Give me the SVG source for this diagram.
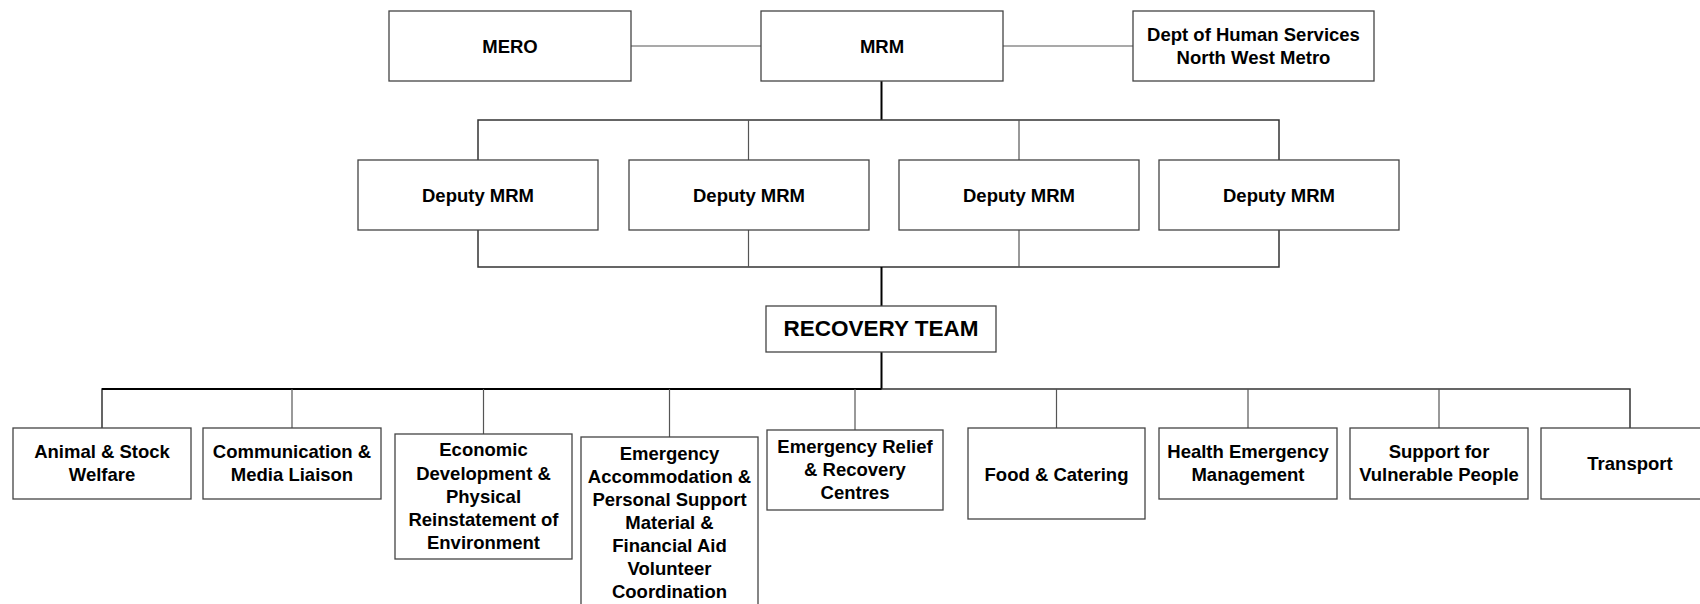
<svg xmlns="http://www.w3.org/2000/svg" width="1700" height="604" viewBox="0 0 1700 604">
<style>
.box{fill:#fff;stroke:#444;stroke-width:1.3}
.t{font-family:"Liberation Sans",Arial,sans-serif;font-weight:bold;font-size:18.5px;fill:#000;text-anchor:middle}
.big{font-size:22.5px}
.ln{fill:none;stroke:#555;stroke-width:1.2}
.bus{fill:none;stroke:#333;stroke-width:1.5}
.spine{fill:none;stroke:#000;stroke-width:2}
</style>
<rect width="1700" height="604" fill="#fff"/>
<g id="connectors">
<line class="ln" x1="631" y1="46" x2="761" y2="46"/>
<line class="ln" x1="1003" y1="46" x2="1133" y2="46"/>
<line class="spine" x1="881.5" y1="81" x2="881.5" y2="120"/>
<polyline class="bus" points="478,160 478,120 1279,120 1279,160"/>
<line class="ln" x1="748.5" y1="120" x2="748.5" y2="160"/>
<line class="ln" x1="1019" y1="120" x2="1019" y2="160"/>
<polyline class="bus" points="478,230 478,267 1279,267 1279,230"/>
<line class="ln" x1="748.5" y1="230" x2="748.5" y2="267"/>
<line class="ln" x1="1019" y1="230" x2="1019" y2="267"/>
<line class="spine" x1="881.5" y1="267" x2="881.5" y2="306"/>
<line class="spine" x1="881.5" y1="352" x2="881.5" y2="389"/>
<polyline class="bus" points="102,428 102,389 1630,389 1630,428"/>
<line class="spine" x1="102" y1="389" x2="881.5" y2="389"/>
<line class="ln" x1="292" y1="389" x2="292" y2="428"/>
<line class="ln" x1="483.5" y1="389" x2="483.5" y2="434"/>
<line class="ln" x1="669.5" y1="389" x2="669.5" y2="437"/>
<line class="ln" x1="855" y1="389" x2="855" y2="430"/>
<line class="ln" x1="1056.5" y1="389" x2="1056.5" y2="428"/>
<line class="ln" x1="1248" y1="389" x2="1248" y2="428"/>
<line class="ln" x1="1439" y1="389" x2="1439" y2="428"/>
</g>
<g id="mero"><rect class="box" x="389" y="11" width="242" height="70"/><text class="t" x="510" y="52.5">MERO</text></g>
<g id="mrm"><rect class="box" x="761" y="11" width="242" height="70"/><text class="t" x="882" y="52.5">MRM</text></g>
<g id="dhs"><rect class="box" x="1133" y="11" width="241" height="70"/><text class="t" x="1253.5" y="41">Dept of Human Services</text><text class="t" x="1253.5" y="64">North West Metro</text></g>
<g id="deputy1"><rect class="box" x="358" y="160" width="240" height="70"/><text class="t" x="478" y="201.5">Deputy MRM</text></g>
<g id="deputy2"><rect class="box" x="629" y="160" width="240" height="70"/><text class="t" x="749" y="201.5">Deputy MRM</text></g>
<g id="deputy3"><rect class="box" x="899" y="160" width="240" height="70"/><text class="t" x="1019" y="201.5">Deputy MRM</text></g>
<g id="deputy4"><rect class="box" x="1159" y="160" width="240" height="70"/><text class="t" x="1279" y="201.5">Deputy MRM</text></g>
<g id="recovery-team"><rect class="box" x="766" y="306" width="230" height="46"/><text class="t big" x="881" y="336">RECOVERY TEAM</text></g>
<g id="animal"><rect class="box" x="13" y="428" width="178" height="71"/><text class="t" x="102" y="458">Animal &amp; Stock</text><text class="t" x="102" y="481">Welfare</text></g>
<g id="communication"><rect class="box" x="203" y="428" width="178" height="71"/><text class="t" x="292" y="458">Communication &amp;</text><text class="t" x="292" y="481">Media Liaison</text></g>
<g id="economic"><rect class="box" x="395" y="434" width="177" height="125"/><text class="t" x="483.5" y="456">Economic</text><text class="t" x="483.5" y="480">Development &amp;</text><text class="t" x="483.5" y="503">Physical</text><text class="t" x="483.5" y="526">Reinstatement of</text><text class="t" x="483.5" y="549">Environment</text></g>
<g id="accommodation"><rect class="box" x="581" y="437" width="177" height="173"/><text class="t" x="669.5" y="460">Emergency</text><text class="t" x="669.5" y="483">Accommodation &amp;</text><text class="t" x="669.5" y="506">Personal Support</text><text class="t" x="669.5" y="529">Material &amp;</text><text class="t" x="669.5" y="552">Financial Aid</text><text class="t" x="669.5" y="575">Volunteer</text><text class="t" x="669.5" y="598">Coordination</text></g>
<g id="relief"><rect class="box" x="767" y="430" width="176" height="80"/><text class="t" x="855" y="453">Emergency Relief</text><text class="t" x="855" y="476">&amp; Recovery</text><text class="t" x="855" y="499">Centres</text></g>
<g id="food"><rect class="box" x="968" y="428" width="177" height="91"/><text class="t" x="1056.5" y="481">Food &amp; Catering</text></g>
<g id="health"><rect class="box" x="1159" y="428" width="178" height="71"/><text class="t" x="1248" y="458">Health Emergency</text><text class="t" x="1248" y="481">Management</text></g>
<g id="vulnerable"><rect class="box" x="1350" y="428" width="178" height="71"/><text class="t" x="1439" y="458">Support for</text><text class="t" x="1439" y="481">Vulnerable People</text></g>
<g id="transport"><rect class="box" x="1541" y="428" width="178" height="71"/><text class="t" x="1630" y="470">Transport</text></g>
</svg>
